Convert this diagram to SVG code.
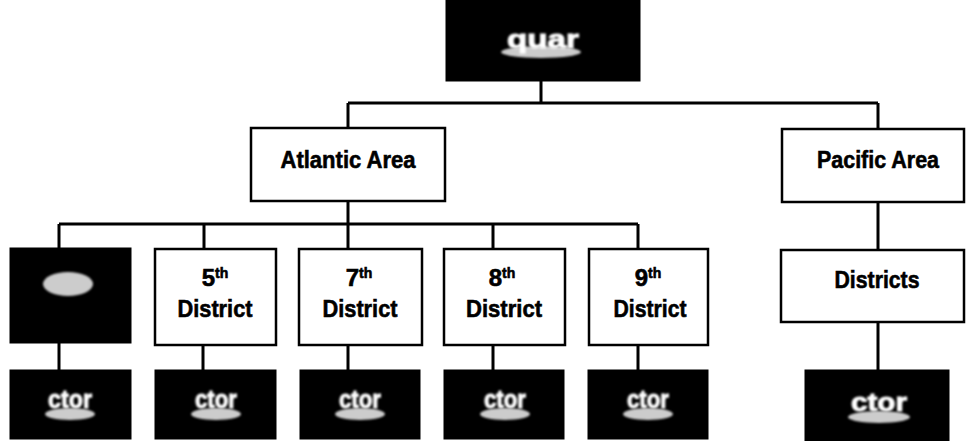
<svg xmlns="http://www.w3.org/2000/svg" width="966" height="441" viewBox="0 0 966 441">
<defs>
<style>
.box{fill:#fff;stroke:#000;stroke-width:2.5}
.dark{fill:#000;stroke:#000;stroke-width:1}
.lbl{font-family:"Liberation Sans",Arial,sans-serif;font-weight:bold;font-size:24px;fill:#000;stroke:#000;stroke-width:0.6;text-anchor:middle}
.wt{font-family:"Liberation Sans",Arial,sans-serif;font-weight:bold;font-size:26px;fill:#fff;stroke:#fff;stroke-width:1;text-anchor:middle}
.sm{fill:#fff;opacity:0.8}
.conn{stroke:#000;stroke-width:3;fill:none}
</style>
<filter id="blur" x="-30%" y="-60%" width="160%" height="220%"><feGaussianBlur stdDeviation="1.3"/></filter>
</defs>
<g id="connectors">
<path class="conn" d="M541 81V103M348 103H878M348 103V128M878 103V129"/>
<path class="conn" d="M348 201V224M59 224H638M59 224V248M204 224V249M348 224V249M493 224V249M638 224V249"/>
<path class="conn" d="M59 343V370M203 345V370M348 345V370M493 345V370M638 345V370"/>
<path class="conn" d="M878 202V250M878 322V370"/>
</g>
<g id="hq">
<rect class="dark" x="446" y="0" width="194" height="81"/>
<ellipse class="sm" cx="541" cy="52" rx="40" ry="6" filter="url(#blur)"/>
<text class="wt" x="543" y="48" textLength="72" lengthAdjust="spacingAndGlyphs" filter="url(#blur)">quar</text>
</g>
<g id="atlantic">
<rect class="box" x="251" y="128" width="194" height="73"/>
<text class="lbl" x="348" y="168" textLength="135" lengthAdjust="spacingAndGlyphs">Atlantic Area</text>
</g>
<g id="pacific">
<rect class="box" x="782" y="129" width="182" height="73"/>
<text class="lbl" x="878" y="168" textLength="122" lengthAdjust="spacingAndGlyphs">Pacific Area</text>
</g>
<g id="dark-mid">
<rect class="dark" x="10" y="248" width="121" height="95"/>
<ellipse class="sm" cx="68" cy="284" rx="25" ry="12" filter="url(#blur)"/>
</g>
<g id="d5">
<rect class="box" x="155" y="249" width="121" height="96"/>
<text class="lbl" x="215" y="286">5<tspan font-size="14" dy="-8">th</tspan></text>
<text class="lbl" x="215" y="317" textLength="75" lengthAdjust="spacingAndGlyphs">District</text>
</g>
<g id="d7">
<rect class="box" x="299" y="249" width="123" height="96"/>
<text class="lbl" x="359" y="286">7<tspan font-size="14" dy="-8">th</tspan></text>
<text class="lbl" x="360" y="317" textLength="75" lengthAdjust="spacingAndGlyphs">District</text>
</g>
<g id="d8">
<rect class="box" x="444" y="249" width="121" height="96"/>
<text class="lbl" x="502" y="286">8<tspan font-size="14" dy="-8">th</tspan></text>
<text class="lbl" x="504" y="317" textLength="76" lengthAdjust="spacingAndGlyphs">District</text>
</g>
<g id="d9">
<rect class="box" x="589" y="249" width="119" height="96"/>
<text class="lbl" x="648" y="286">9<tspan font-size="14" dy="-8">th</tspan></text>
<text class="lbl" x="650" y="317" textLength="73" lengthAdjust="spacingAndGlyphs">District</text>
</g>
<g id="districts">
<rect class="box" x="781" y="250" width="183" height="72"/>
<text class="lbl" x="877" y="288" textLength="85" lengthAdjust="spacingAndGlyphs">Districts</text>
</g>
<g id="s1">
<rect class="dark" x="10" y="370" width="121" height="69"/>
<ellipse class="sm" cx="70" cy="414" rx="25" ry="6" filter="url(#blur)"/>
<text class="wt" x="70" y="408" textLength="44" lengthAdjust="spacingAndGlyphs" filter="url(#blur)">ctor</text>
</g>
<g id="s2">
<rect class="dark" x="155" y="370" width="121" height="69"/>
<ellipse class="sm" cx="216" cy="414" rx="25" ry="6" filter="url(#blur)"/>
<text class="wt" x="216" y="408" textLength="42" lengthAdjust="spacingAndGlyphs" filter="url(#blur)">ctor</text>
</g>
<g id="s3">
<rect class="dark" x="300" y="370" width="120" height="69"/>
<ellipse class="sm" cx="360" cy="414" rx="25" ry="6" filter="url(#blur)"/>
<text class="wt" x="360" y="408" textLength="42" lengthAdjust="spacingAndGlyphs" filter="url(#blur)">ctor</text>
</g>
<g id="s4">
<rect class="dark" x="444" y="370" width="120" height="69"/>
<ellipse class="sm" cx="505" cy="414" rx="25" ry="6" filter="url(#blur)"/>
<text class="wt" x="505" y="408" textLength="42" lengthAdjust="spacingAndGlyphs" filter="url(#blur)">ctor</text>
</g>
<g id="s5">
<rect class="dark" x="588" y="370" width="120" height="69"/>
<ellipse class="sm" cx="648" cy="414" rx="25" ry="6" filter="url(#blur)"/>
<text class="wt" x="648" y="408" textLength="42" lengthAdjust="spacingAndGlyphs" filter="url(#blur)">ctor</text>
</g>
<g id="s6">
<rect class="dark" x="805" y="370" width="144" height="71"/>
<ellipse class="sm" cx="879" cy="417" rx="31" ry="6" filter="url(#blur)"/>
<text class="wt" x="879" y="411" textLength="56" lengthAdjust="spacingAndGlyphs" filter="url(#blur)">ctor</text>
</g>
</svg>
